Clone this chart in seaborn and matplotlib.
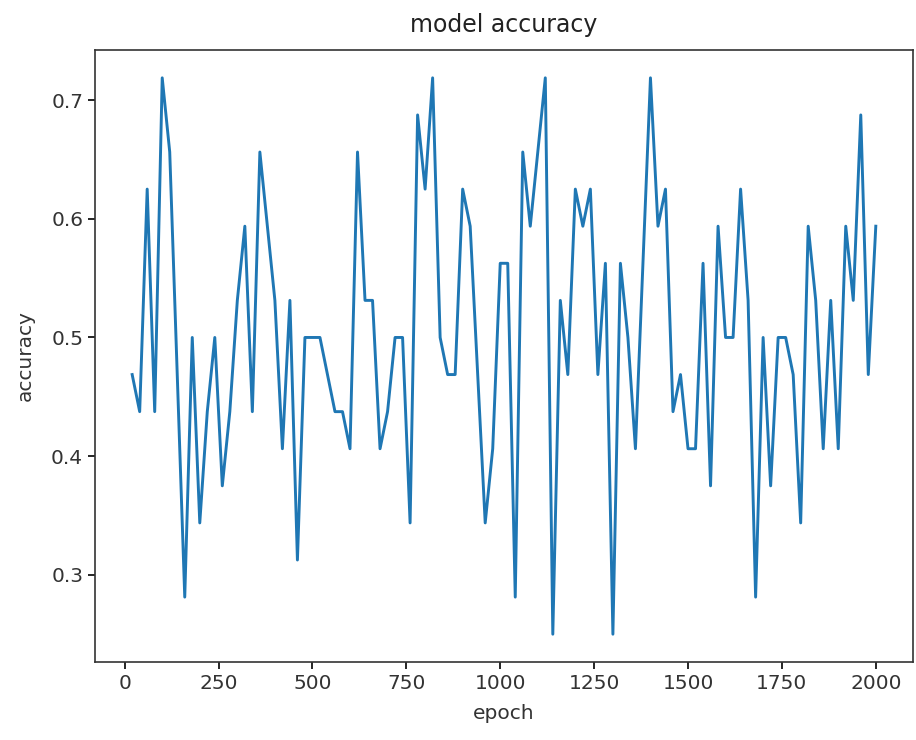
import matplotlib
matplotlib.use("Agg")
import matplotlib.pyplot as plt
import seaborn as sns

# epochs logged every 20 steps
epochs = list(range(20, 2001, 20))

accuracy = [
    0.46875, 0.4375, 0.625, 0.4375, 0.71875, 0.65625, 0.46875, 0.28125, 0.5, 0.34375,
    0.4375, 0.5, 0.375, 0.4375, 0.53125, 0.59375, 0.4375, 0.65625, 0.59375, 0.53125,
    0.40625, 0.53125, 0.3125, 0.5, 0.5, 0.5, 0.46875, 0.4375, 0.4375, 0.40625,
    0.65625, 0.53125, 0.53125, 0.40625, 0.4375, 0.5, 0.5, 0.34375, 0.6875, 0.625,
    0.71875, 0.5, 0.46875, 0.46875, 0.625, 0.59375, 0.46875, 0.34375, 0.40625, 0.5625,
    0.5625, 0.28125, 0.65625, 0.59375, 0.65625, 0.71875, 0.25, 0.53125, 0.46875, 0.625,
    0.59375, 0.625, 0.46875, 0.5625, 0.25, 0.5625, 0.5, 0.40625, 0.5625, 0.71875,
    0.59375, 0.625, 0.4375, 0.46875, 0.40625, 0.40625, 0.5625, 0.375, 0.59375, 0.5,
    0.5, 0.625, 0.53125, 0.28125, 0.5, 0.375, 0.5, 0.5, 0.46875, 0.34375,
    0.59375, 0.53125, 0.40625, 0.53125, 0.40625, 0.59375, 0.53125, 0.6875, 0.46875, 0.59375,
]

fig = plt.figure(figsize=(9.16, 7.40), dpi=100)
ax = fig.add_axes([0.1037, 0.1054, 0.893, 0.827])

sns.lineplot(x=epochs, y=accuracy, ax=ax, color="#1f77b4", linewidth=2.1)

ax.set_title("model accuracy", fontsize=17, pad=13, color="#222222")
ax.set_xlabel("epoch", fontsize=14.5, labelpad=8, color="#333333")
ax.set_ylabel("accuracy", fontsize=14.5, labelpad=12, color="#333333")
ax.tick_params(labelsize=14.5, length=5, width=1.2, labelcolor="#333333")
ax.set_xticks([0, 250, 500, 750, 1000, 1250, 1500, 1750, 2000])
ax.set_yticks([0.3, 0.4, 0.5, 0.6, 0.7])
for s in ax.spines.values():
    s.set_linewidth(1.2)
    s.set_color("#333333")

fig.savefig("out.png", dpi=100)
plt.close(fig)
